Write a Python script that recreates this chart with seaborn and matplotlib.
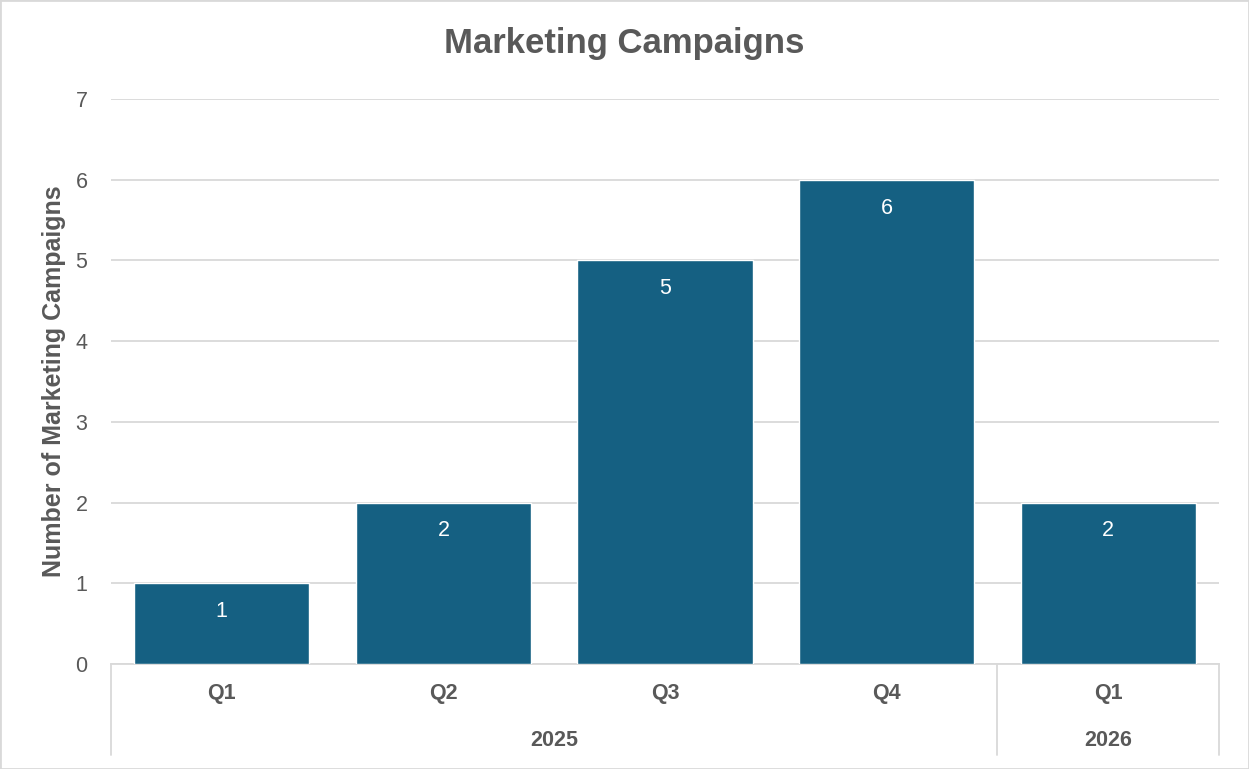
import matplotlib
matplotlib.use("Agg")
import matplotlib.pyplot as plt
import seaborn as sns
import pandas as pd
from matplotlib.patches import Rectangle
from matplotlib.transforms import blended_transform_factory

quarters = ["Q1", "Q2", "Q3", "Q4", "Q1"]
years = ["2025", "2025", "2025", "2025", "2026"]
campaigns = [1, 2, 5, 6, 2]
year_groups = ["2025", "2026"]

sns.set_theme(style="white")
plt.rcParams["font.family"] = ["Liberation Sans", "DejaVu Sans"]

TXT = "#595959"
GRID = "#D9D9D9"
BAR = "#156082"

df = pd.DataFrame({"key": [f"{y} {q}" for y, q in zip(years, quarters)],
                   "value": campaigns})

fig = plt.figure(figsize=(12.49, 7.69), dpi=100)
ax = fig.add_axes([111/1249, 1-664/769, (1219-111)/1249, (664-99)/769])

sns.barplot(data=df, x="key", y="value", color=BAR, width=0.79,
            saturation=1, ax=ax, zorder=3)

ax.set_ylim(0, 7)
ax.set_xlim(-0.5, len(campaigns)-0.5)
ax.set_yticks(range(0, 8))
ax.yaxis.grid(True, color=GRID, linewidth=1.3, zorder=0)
ax.set_axisbelow(True)
for s in ["top", "right", "left"]:
    ax.spines[s].set_visible(False)
ax.spines["bottom"].set_color(GRID)
ax.spines["bottom"].set_linewidth(1.3)
ax.tick_params(axis="y", length=0, labelsize=15.5, labelcolor=TXT, pad=17)
ax.tick_params(axis="x", length=0, labelsize=15.5, labelcolor=TXT, pad=14)
ax.set_xticks(range(len(quarters)))
ax.set_xticklabels(quarters, fontweight="bold")
ax.set_xlabel("")
ax.set_ylabel("Number of Marketing Campaigns", fontsize=18, fontweight="bold",
              color=TXT, labelpad=7)

# data labels
for c in ax.containers:
    ax.bar_label(c, labels=[str(v) for v in campaigns], label_type="edge",
                 padding=-28, color="white", fontsize=15.5)

# multi-level category axis
tr = blended_transform_factory(ax.transData, ax.transAxes)
bottom_y = -(755-664)/(664-99)
bounds = [-0.5]
for i in range(1, len(years)):
    if years[i] != years[i-1]:
        bounds.append(i-0.5)
bounds.append(len(years)-0.5)
for b in bounds:
    ax.plot([b, b], [0, bottom_y], transform=tr, color=GRID, lw=1.3,
            clip_on=False)
for yg in year_groups:
    idx = [i for i, y in enumerate(years) if y == yg]
    center = (min(idx) + max(idx)) / 2
    ax.text(center, -(741-664)/(664-99), yg, transform=tr, ha="center",
            va="center", fontsize=15.5, fontweight="bold", color=TXT)

fig.text(0.5, 1-43/769, "Marketing Campaigns", ha="center", va="center",
         fontsize=25, fontweight="bold", color=TXT)

fig.patches.append(Rectangle((0, 0), 1, 1, transform=fig.transFigure,
                             fill=False, edgecolor=GRID, linewidth=2))

fig.savefig("out.png", dpi=100)
